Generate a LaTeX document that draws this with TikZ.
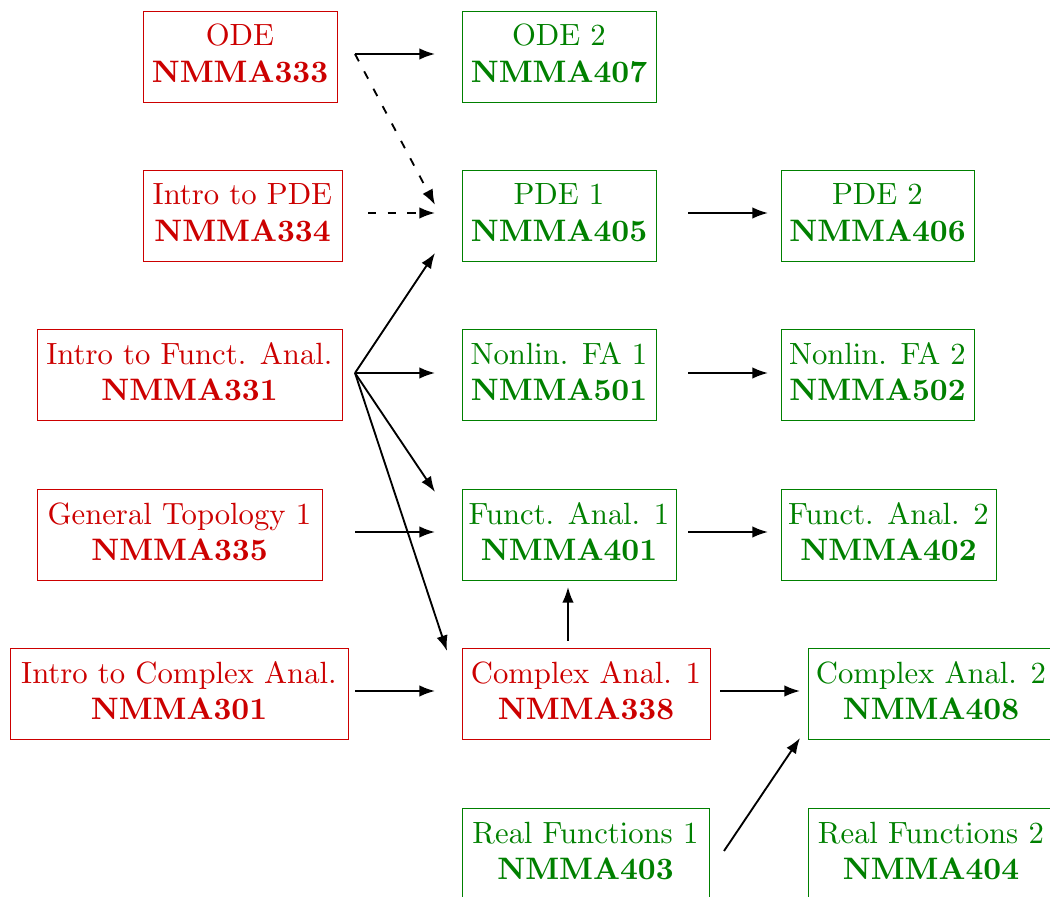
\documentclass[tikz,border=0pt]{standalone}
\usetikzlibrary{arrows.meta}
\definecolor{cred}{RGB}{204,0,0}
\definecolor{cgreen}{RGB}{0,128,0}
\font\crsrm=cmr10 at 14.83pt
\font\crsbf=cmbx10 at 15pt
\newcommand{\crs}[2]{#1\\{\crsbf #2}}
\begin{document}
\begin{tikzpicture}[x=0.483pt,y=-0.483pt,
  course/.style={draw, rectangle, inner sep=0pt, align=center, text depth=2.5pt,
    font=\fontsize{14.83}{17.8}\selectfont\crsrm, minimum height=91*0.483pt},
  w/.style={minimum width=#1*0.483pt},
  old/.style={course, draw=cred, text=cred},
  new/.style={course, draw=cgreen, text=cgreen},
  arr/.style={-{Latex[length=7.5pt,width=5.5pt]}, line width=0.9pt, black},
  darr/.style={arr, dash pattern=on 4pt off 5.5pt}]
\useasboundingbox (0,0) rectangle (1050,897);
% column 1
\node[old, w=194] (ode)  at (240,56.5)   {\crs{ODE}{NMMA333}};
\node[old, w=199] (ipde) at (242.5,215.5) {\crs{Intro to PDE}{NMMA334}};
\node[old, w=305] (ifa)  at (189.5,374.5) {\crs{Intro to Funct. Anal.}{NMMA331}};
\node[old, w=285] (gt)   at (179.5,534.5) {\crs{General Topology 1}{NMMA335}};
\node[old, w=338] (ica)  at (179,693.5)   {\crs{Intro to Complex Anal.}{NMMA301}};
% column 2
\node[new, w=194] (ode2) at (559,56.5)   {\crs{ODE 2}{NMMA407}};
\node[new, w=194] (pde1) at (559,215.5)  {\crs{PDE 1}{NMMA405}};
\node[new, w=194] (nfa1) at (559,374.5)  {\crs{Nonlin. FA 1}{NMMA501}};
\node[new, w=214] (fa1)  at (569,534.5)  {\crs{Funct. Anal. 1}{NMMA401}};
\node[old, w=248] (ca1)  at (586,693.5)  {\crs{Complex Anal. 1}{NMMA338}};
\node[new, w=247] (rf1)  at (585.5,853.5) {\crs{Real Functions 1}{NMMA403}};
% column 3
\node[new, w=193] (pde2) at (877.5,215.5) {\crs{PDE 2}{NMMA406}};
\node[new, w=193] (nfa2) at (877.5,374.5) {\crs{Nonlin. FA 2}{NMMA502}};
\node[new, w=215] (fa2)  at (888.5,534.5) {\crs{Funct. Anal. 2}{NMMA402}};
\node[new, w=246] (ca2)  at (931,693.5)   {\crs{Complex Anal. 2}{NMMA408}};
\node[new, w=246] (rf2)  at (931,853.5)   {\crs{Real Functions 2}{NMMA404}};
% connector end points
\coordinate (odeR)  at (355,54);
\coordinate (ode2L) at (435,54);
\coordinate (pde1T) at (435,205);
\coordinate (ipdeR) at (368,213);
\coordinate (pde1L) at (435,213);
\coordinate (pde1B) at (435,253);
\coordinate (ifaR)  at (355,373);
\coordinate (nfa1L) at (435,373);
\coordinate (fa1T)  at (435,492);
\coordinate (ca1T)  at (447,651);
\coordinate (gtR)   at (355,532);
\coordinate (fa1L)  at (435,532);
\coordinate (icaR)  at (355,691);
\coordinate (ca1L)  at (435,691);
\coordinate (pde1R) at (688,213);
\coordinate (pde2L) at (768,213);
\coordinate (nfa1R) at (688,373);
\coordinate (nfa2L) at (768,373);
\coordinate (fa1R)  at (688,532);
\coordinate (fa2L)  at (768,532);
\coordinate (ca1R)  at (720,691);
\coordinate (ca2L)  at (800,691);
\coordinate (ca1U)  at (568,641);
\coordinate (fa1D)  at (568,587);
\coordinate (rf1R)  at (724,851);
\coordinate (ca2B)  at (800,738);
% connectors
\draw[arr]  (odeR) -- (ode2L);
\draw[darr] (odeR) -- (pde1T);
\draw[darr] (ipdeR) -- (pde1L);
\draw[arr]  (ifaR) -- (pde1B);
\draw[arr]  (ifaR) -- (nfa1L);
\draw[arr]  (ifaR) -- (fa1T);
\draw[arr]  (ifaR) -- (ca1T);
\draw[arr]  (gtR) -- (fa1L);
\draw[arr]  (icaR) -- (ca1L);
\draw[arr]  (pde1R) -- (pde2L);
\draw[arr]  (nfa1R) -- (nfa2L);
\draw[arr]  (fa1R) -- (fa2L);
\draw[arr]  (ca1R) -- (ca2L);
\draw[arr]  (ca1U) -- (fa1D);
\draw[arr]  (rf1R) -- (ca2B);
\end{tikzpicture}
\end{document}
